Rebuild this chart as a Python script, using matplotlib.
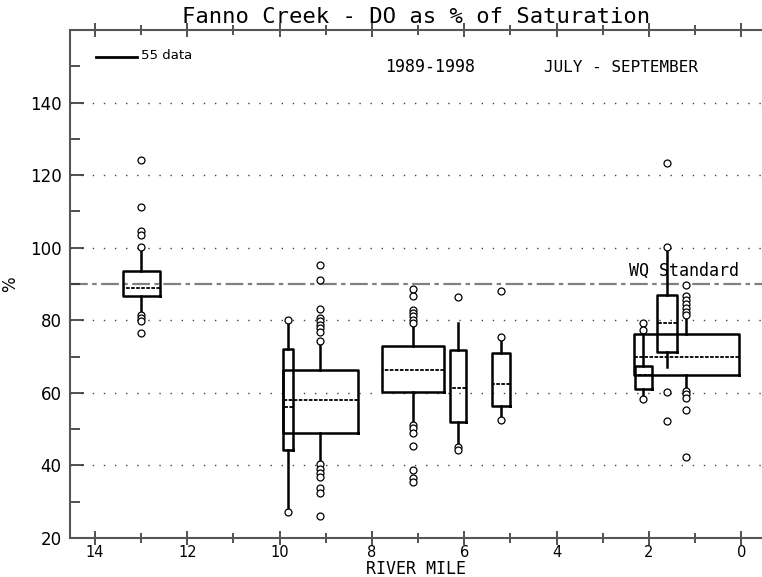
import matplotlib
matplotlib.use("Agg")
import matplotlib.pyplot as plt
from matplotlib.ticker import MultipleLocator

# river mile of each station and number of samples (box width ~ count)
miles = [13.0, 9.82, 9.12, 7.11, 6.13, 5.21, 2.12, 1.61, 1.19]
counts = [49, 13, 99, 81, 21, 24, 22, 26, 139]
q1 = [86.6, 44.3, 49.0, 60.1, 51.9, 56.4, 61.0, 71.2, 65.0]
medians = [89.0, 56.2, 58.1, 66.3, 61.3, 62.5, 65.0, 79.2, 70.0]
q3 = [93.5, 72.1, 66.2, 73.0, 71.7, 71.0, 67.4, 87.0, 76.2]
whisk_lo = [81.5, 27.3, 40.7, 51.6, 45.2, 52.6, 58.3, 67.1, 60.6]
whisk_hi = [100.2, 80.1, 74.2, 78.8, 79.2, 75.3, 77.4, 100.2, 81.5]
outliers = [
    [124.3, 111.2, 104.5, 103.6, 100.2, 81.5, 80.6, 79.7, 76.5],
    [80.1, 27.3],
    [95.3, 91.2, 83.2, 80.7, 79.7, 78.8, 77.8, 76.8, 74.2,
     40.4, 39.0, 37.8, 36.8, 33.8, 32.4, 26.2],
    [88.6, 86.6, 82.9, 82.0, 81.1, 80.1, 79.2, 51.1, 50.2, 49.0, 45.4, 38.8, 36.4, 35.5],
    [86.4, 45.2, 44.3],
    [88.2, 75.3, 52.6],
    [79.2, 77.4, 58.3],
    [123.4, 100.2, 60.2, 52.3],
    [89.6, 86.6, 85.5, 84.5, 83.4, 82.4, 81.5, 60.6, 59.6, 58.6, 55.3, 42.4],
]
wq_standard = 90
legend_count = 55
mile_per_sample = 0.898 / legend_count

MONO = "DejaVu Sans Mono"

fig = plt.figure(figsize=(7.62, 5.77), dpi=100)
ax = fig.add_axes([70 / 762, 39 / 577, 692 / 762, 508 / 577])

stats = []
for i in range(len(miles)):
    stats.append(dict(med=medians[i], q1=q1[i], q3=q3[i],
                      whislo=whisk_lo[i], whishi=whisk_hi[i], fliers=outliers[i]))
widths = [n * mile_per_sample for n in counts]

ax.bxp(stats, positions=miles, widths=widths, showcaps=False, manage_ticks=False,
       boxprops=dict(color="black", linewidth=1.8),
       whiskerprops=dict(color="black", linewidth=1.8),
       medianprops=dict(color="black", linewidth=1.3, linestyle=(0, (2, 0.8))),
       flierprops=dict(marker="o", markerfacecolor="white", markeredgecolor="black",
                       markersize=5, markeredgewidth=0.9))

# grid and water quality standard
for y in range(40, 141, 20):
    ax.axhline(y, color="#444444", linewidth=1.0, linestyle=(0, (1, 7)), zorder=0)
ax.axhline(wq_standard, color="#808080", linewidth=1.6, linestyle=(0, (8, 2, 2, 2)), zorder=0)
ax.text(1.25, 93.5, "WQ Standard", family=MONO, fontsize=12, ha="center", va="center")

# width legend
ax.plot([13.98, 13.98 - legend_count * mile_per_sample], [152.6, 152.6],
        color="black", linewidth=2)
ax.text(13.0, 152.9, "%d data" % legend_count, fontsize=9.5, ha="left", va="center")
ax.text(6.75, 149.8, "1989-1998", family=MONO, fontsize=12, ha="center", va="center")
ax.text(2.61, 149.8, "JULY - SEPTEMBER", family=MONO, fontsize=11.5, ha="center", va="center")

ax.set_xlim(14.54, -0.45)
ax.set_ylim(20, 160)
ax.xaxis.set_major_locator(MultipleLocator(2))
ax.xaxis.set_minor_locator(MultipleLocator(1))
ax.yaxis.set_minor_locator(MultipleLocator(10))
ax.set_yticks(range(20, 141, 20))
ax.tick_params(axis="x", which="major", direction="inout", length=10, width=1.2,
               top=True, labelsize=10.5, pad=0, color="#333333")
ax.tick_params(axis="x", which="minor", direction="inout", length=7, width=1.2,
               top=True, color="#333333")
ax.tick_params(axis="y", which="major", direction="in", length=10, width=1.2,
               labelsize=12, pad=6, color="#333333")
ax.tick_params(axis="y", which="minor", direction="in", length=7, width=1.2, color="#333333")

for side in ["left", "bottom", "top"]:
    ax.spines[side].set_color("#555555")
    ax.spines[side].set_linewidth(1.5)
ax.spines["right"].set_visible(False)

ax.set_xlabel("RIVER MILE", family=MONO, fontsize=12, labelpad=0)
ax.set_ylabel("%", fontsize=12, labelpad=8)
ax.set_title("Fanno Creek - DO as % of Saturation", family=MONO, fontsize=16, pad=5)

fig.savefig("out.png", dpi=100)
